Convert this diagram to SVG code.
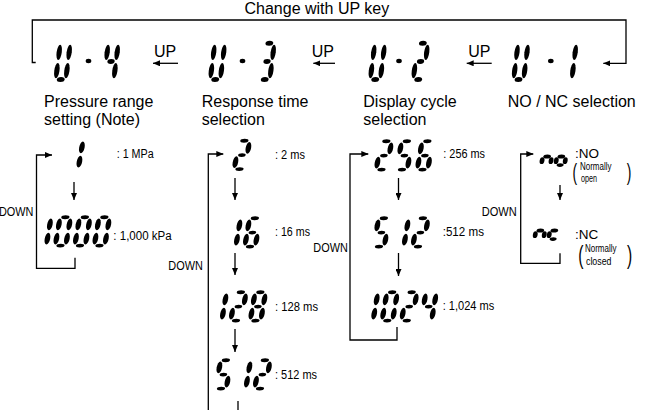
<svg xmlns="http://www.w3.org/2000/svg" width="645" height="410" viewBox="0 0 645 410">
<style>
text{font-family:"Liberation Sans",Arial,Helvetica,sans-serif;fill:#000}
.lg{font-size:16px}
.sm{font-size:12.5px}
.dn{font-size:13px}
.nn{font-size:13.5px}
.tiny{font-size:10.5px}
.ln{fill:none;stroke:#000;stroke-width:1.3}
.arr{fill:none;stroke:#000;stroke-width:1.3;marker-end:url(#ah)}
</style>
<defs>
<marker id="ah" viewBox="0 0 7 6" refX="7" refY="3" markerWidth="7" markerHeight="6" orient="auto" markerUnits="userSpaceOnUse"><path d="M0,0L7,3L0,6z" fill="#000"/></marker>
<ellipse id="sa" cx="5" cy="-34.6" rx="3.9" ry="2.3"/>
<ellipse id="sb" cx="10" cy="-26.3" rx="2.6" ry="6.9"/>
<ellipse id="sc" cx="10" cy="-9.7" rx="2.6" ry="6.9"/>
<ellipse id="sd" cx="5" cy="-1.6" rx="3.9" ry="2.3"/>
<ellipse id="se" cx="0" cy="-9.7" rx="2.6" ry="6.9"/>
<ellipse id="sf" cx="0" cy="-26.3" rx="2.6" ry="6.9"/>
<ellipse id="sg" cx="5" cy="-18" rx="3.6" ry="2.2"/>
<g id="dU"><use href="#sf"/><use href="#sb"/><use href="#se"/><use href="#sc"/><use href="#sd"/></g>
<g id="d0"><use href="#sa"/><use href="#sb"/><use href="#sc"/><use href="#sd"/><use href="#se"/><use href="#sf"/></g>
<g id="d1"><use href="#sb"/><use href="#sc"/></g>
<g id="d2"><use href="#sa"/><use href="#sb"/><use href="#sg"/><use href="#se"/><use href="#sd"/></g>
<g id="d3"><use href="#sa"/><use href="#sb"/><use href="#sg"/><use href="#sc"/><use href="#sd"/></g>
<g id="d4"><use href="#sf"/><use href="#sg"/><use href="#sb"/><use href="#sc"/></g>
<g id="d5"><use href="#sa"/><use href="#sf"/><use href="#sg"/><use href="#sc"/><use href="#sd"/></g>
<g id="d6"><use href="#sa"/><use href="#sf"/><use href="#sg"/><use href="#se"/><use href="#sc"/><use href="#sd"/></g>
<g id="d8"><use href="#sa"/><use href="#sb"/><use href="#sc"/><use href="#sd"/><use href="#se"/><use href="#sf"/><use href="#sg"/></g>
<ellipse id="tg" cx="4.5" cy="-9.6" rx="3.8" ry="2"/>
<ellipse id="te" cx="0" cy="-5.3" rx="2.4" ry="3.4"/>
<ellipse id="tc" cx="9" cy="-5.3" rx="2.4" ry="3.4"/>
<ellipse id="td" cx="4.5" cy="-0.9" rx="3.5" ry="1.8"/>
<g id="sn"><use href="#tg"/><use href="#te"/><use href="#tc"/></g>
<g id="so"><use href="#tg"/><use href="#te"/><use href="#tc"/><use href="#td"/></g>
<g id="sc2"><use href="#tg"/><use href="#te"/><use href="#td"/></g>
</defs>

<g id="connectors">
<text class="lg" x="244.5" y="14">Change with UP key</text>
<polyline class="arr" points="35.7,62.5 32.3,62.5 32.3,20 626,20 626,63.3 603.3,63.3"/>
<line class="arr" x1="178" y1="63.3" x2="153" y2="63.3"/>
<line class="arr" x1="335" y1="63.3" x2="313.3" y2="63.3"/>
<line class="arr" x1="491.7" y1="63.3" x2="466.7" y2="63.3"/>
<text class="lg" x="154" y="56.7">UP</text>
<text class="lg" x="311.7" y="56.7">UP</text>
<text class="lg" x="468.3" y="56.7">UP</text>
<polyline class="arr" points="75,257.7 75,268.3 36.5,268.3 36.5,155 52,155"/>
<line class="arr" x1="74" y1="182" x2="74" y2="200"/>
<text class="dn" x="-1" y="216" textLength="34.5" lengthAdjust="spacingAndGlyphs">DOWN</text>
<polyline class="arr" points="208.3,411 208.3,154 223.3,154"/>
<line class="ln" x1="238" y1="401" x2="238" y2="411"/>
<line class="arr" x1="235" y1="178" x2="235" y2="200"/>
<line class="arr" x1="235" y1="253" x2="235" y2="275"/>
<line class="arr" x1="235" y1="329" x2="235" y2="352"/>
<text class="dn" x="168.3" y="270" textLength="34.5" lengthAdjust="spacingAndGlyphs">DOWN</text>
<polyline class="arr" points="397,327 397,340 350,340 350,154 368.3,154"/>
<line class="arr" x1="398.5" y1="178" x2="398.5" y2="200"/>
<line class="arr" x1="398.5" y1="253" x2="398.5" y2="276"/>
<text class="dn" x="313.3" y="251.7" textLength="34.5" lengthAdjust="spacingAndGlyphs">DOWN</text>
<polyline class="arr" points="560,253.3 560,263.3 520.7,263.3 520.7,154 533.3,154"/>
<line class="arr" x1="560" y1="185" x2="560" y2="200"/>
<text class="dn" x="481.7" y="216" textLength="35" lengthAdjust="spacingAndGlyphs">DOWN</text>
</g>

<g id="mode-u4">
<use href="#dU" transform="translate(55.5,81.3) scale(1,1.1) skewX(-8)"/>
<ellipse cx="88.5" cy="61" rx="2.8" ry="2.2"/>
<use href="#d4" transform="translate(103.5,81.3) scale(1,1.1) skewX(-8)"/>
<text class="lg" x="44" y="106.7">Pressure range</text>
<text class="lg" x="44" y="124.5">setting (Note)</text>
</g>
<g id="mode-u3">
<use href="#dU" transform="translate(210,81.3) scale(1,1.1) skewX(-8)"/>
<ellipse cx="242.5" cy="61" rx="2.8" ry="2.2"/>
<use href="#d3" transform="translate(259.5,81.3) scale(1,1.1) skewX(-8)"/>
<text class="lg" x="201.7" y="106.7">Response time</text>
<text class="lg" x="201.7" y="124.5">selection</text>
</g>
<g id="mode-u2">
<use href="#dU" transform="translate(370,81.3) scale(1,1.1) skewX(-8)"/>
<ellipse cx="399" cy="61" rx="2.8" ry="2.2"/>
<use href="#d2" transform="translate(413,81.3) scale(1,1.1) skewX(-8)"/>
<text class="lg" x="363.3" y="106.7">Display cycle</text>
<text class="lg" x="363.3" y="124.5">selection</text>
</g>
<g id="mode-u1">
<use href="#dU" transform="translate(513.3,81.3) scale(1,1.1) skewX(-8)"/>
<ellipse cx="550.8" cy="61" rx="2.8" ry="2.2"/>
<use href="#d1" transform="translate(561.5,81.3) scale(1,1.1) skewX(-8)"/>
<text class="lg" x="507.7" y="106.7">NO / NC selection</text>
</g>

<g id="val-1mpa">
<use href="#d1" transform="translate(67.5,170) scale(1.05,0.86) skewX(-8)"/>
<text class="sm" x="116.7" y="158.3" textLength="37" lengthAdjust="spacingAndGlyphs">: 1 MPa</text>
</g>
<g id="val-1000kpa">
<use href="#d1" transform="translate(35.5,247) scale(1.05,0.86) skewX(-8)"/>
<use href="#d0" transform="translate(55,247) scale(1.05,0.86) skewX(-8)"/>
<use href="#d0" transform="translate(74.5,247) scale(1.05,0.86) skewX(-8)"/>
<use href="#d0" transform="translate(94,247) scale(1.05,0.86) skewX(-8)"/>
<text class="sm" x="113.3" y="240" textLength="58.4" lengthAdjust="spacingAndGlyphs">: 1,000 kPa</text>
</g>

<g id="val-2ms">
<use href="#d2" transform="translate(234,170.5) scale(1.05,0.86) skewX(-8)"/>
<text class="sm" x="275" y="159" textLength="30" lengthAdjust="spacingAndGlyphs">: 2 ms</text>
</g>
<g id="val-16ms">
<use href="#d1" transform="translate(225,248) scale(1.05,0.86) skewX(-8)"/>
<use href="#d6" transform="translate(244.5,248) scale(1.05,0.86) skewX(-8)"/>
<text class="sm" x="275" y="236" textLength="35" lengthAdjust="spacingAndGlyphs">: 16 ms</text>
</g>
<g id="val-128ms">
<use href="#d1" transform="translate(211,322) scale(1.05,0.86) skewX(-8)"/>
<use href="#d2" transform="translate(230.5,322) scale(1.05,0.86) skewX(-8)"/>
<use href="#d8" transform="translate(250,322) scale(1.05,0.86) skewX(-8)"/>
<text class="sm" x="275" y="310.5" textLength="43" lengthAdjust="spacingAndGlyphs">: 128 ms</text>
</g>
<g id="val-512ms-a">
<use href="#d5" transform="translate(215.5,390) scale(1.05,0.86) skewX(-8)"/>
<use href="#d1" transform="translate(235,390) scale(1.05,0.86) skewX(-8)"/>
<use href="#d2" transform="translate(254.5,390) scale(1.05,0.86) skewX(-8)"/>
<text class="sm" x="275" y="379" textLength="42" lengthAdjust="spacingAndGlyphs">: 512 ms</text>
</g>

<g id="val-256ms">
<use href="#d2" transform="translate(376,171) scale(1.05,0.86) skewX(-8)"/>
<use href="#d5" transform="translate(396.5,171) scale(1.05,0.86) skewX(-8)"/>
<use href="#d6" transform="translate(417,171) scale(1.05,0.86) skewX(-8)"/>
<text class="sm" x="443.3" y="158" textLength="41.7" lengthAdjust="spacingAndGlyphs">: 256 ms</text>
</g>
<g id="val-512ms-b">
<use href="#d5" transform="translate(373.5,248) scale(1.05,0.86) skewX(-8)"/>
<use href="#d1" transform="translate(393,248) scale(1.05,0.86) skewX(-8)"/>
<use href="#d2" transform="translate(412.5,248) scale(1.05,0.86) skewX(-8)"/>
<text class="sm" x="442.7" y="236" textLength="41.3" lengthAdjust="spacingAndGlyphs">:512 ms</text>
</g>
<g id="val-1024ms">
<use href="#d1" transform="translate(362.3,322) scale(1.05,0.86) skewX(-8)"/>
<use href="#d0" transform="translate(381.8,322) scale(1.05,0.86) skewX(-8)"/>
<use href="#d2" transform="translate(401.3,322) scale(1.05,0.86) skewX(-8)"/>
<use href="#d4" transform="translate(420.8,322) scale(1.05,0.86) skewX(-8)"/>
<text class="sm" x="442.7" y="310" textLength="51.6" lengthAdjust="spacingAndGlyphs">: 1,024 ms</text>
</g>

<g id="val-no">
<use href="#sn" transform="translate(541.3,166) skewX(-8)"/>
<use href="#so" transform="translate(555.5,166) skewX(-8)"/>
<text class="nn" x="575" y="157.5">:NO</text>
<text transform="translate(572.5,180) scale(0.6,1)" font-size="23">(</text>
<text class="tiny" x="580" y="170.3" textLength="31.5" lengthAdjust="spacingAndGlyphs">Normally</text>
<text class="tiny" x="581" y="182" textLength="16" lengthAdjust="spacingAndGlyphs">open</text>
<text transform="translate(626.7,180) scale(0.6,1)" font-size="23">)</text>
</g>
<g id="val-nc">
<use href="#sn" transform="translate(534.5,240) skewX(-8)"/>
<use href="#sc2" transform="translate(548.5,240) skewX(-8)"/>
<text class="nn" x="575" y="238.5">:NC</text>
<text transform="translate(578.3,264) scale(0.6,1)" font-size="26">(</text>
<text class="tiny" x="585" y="252" textLength="31.5" lengthAdjust="spacingAndGlyphs">Normally</text>
<text class="tiny" x="586" y="264.5" textLength="25.5" lengthAdjust="spacingAndGlyphs">closed</text>
<text transform="translate(627,264) scale(0.6,1)" font-size="26">)</text>
</g>
</svg>
